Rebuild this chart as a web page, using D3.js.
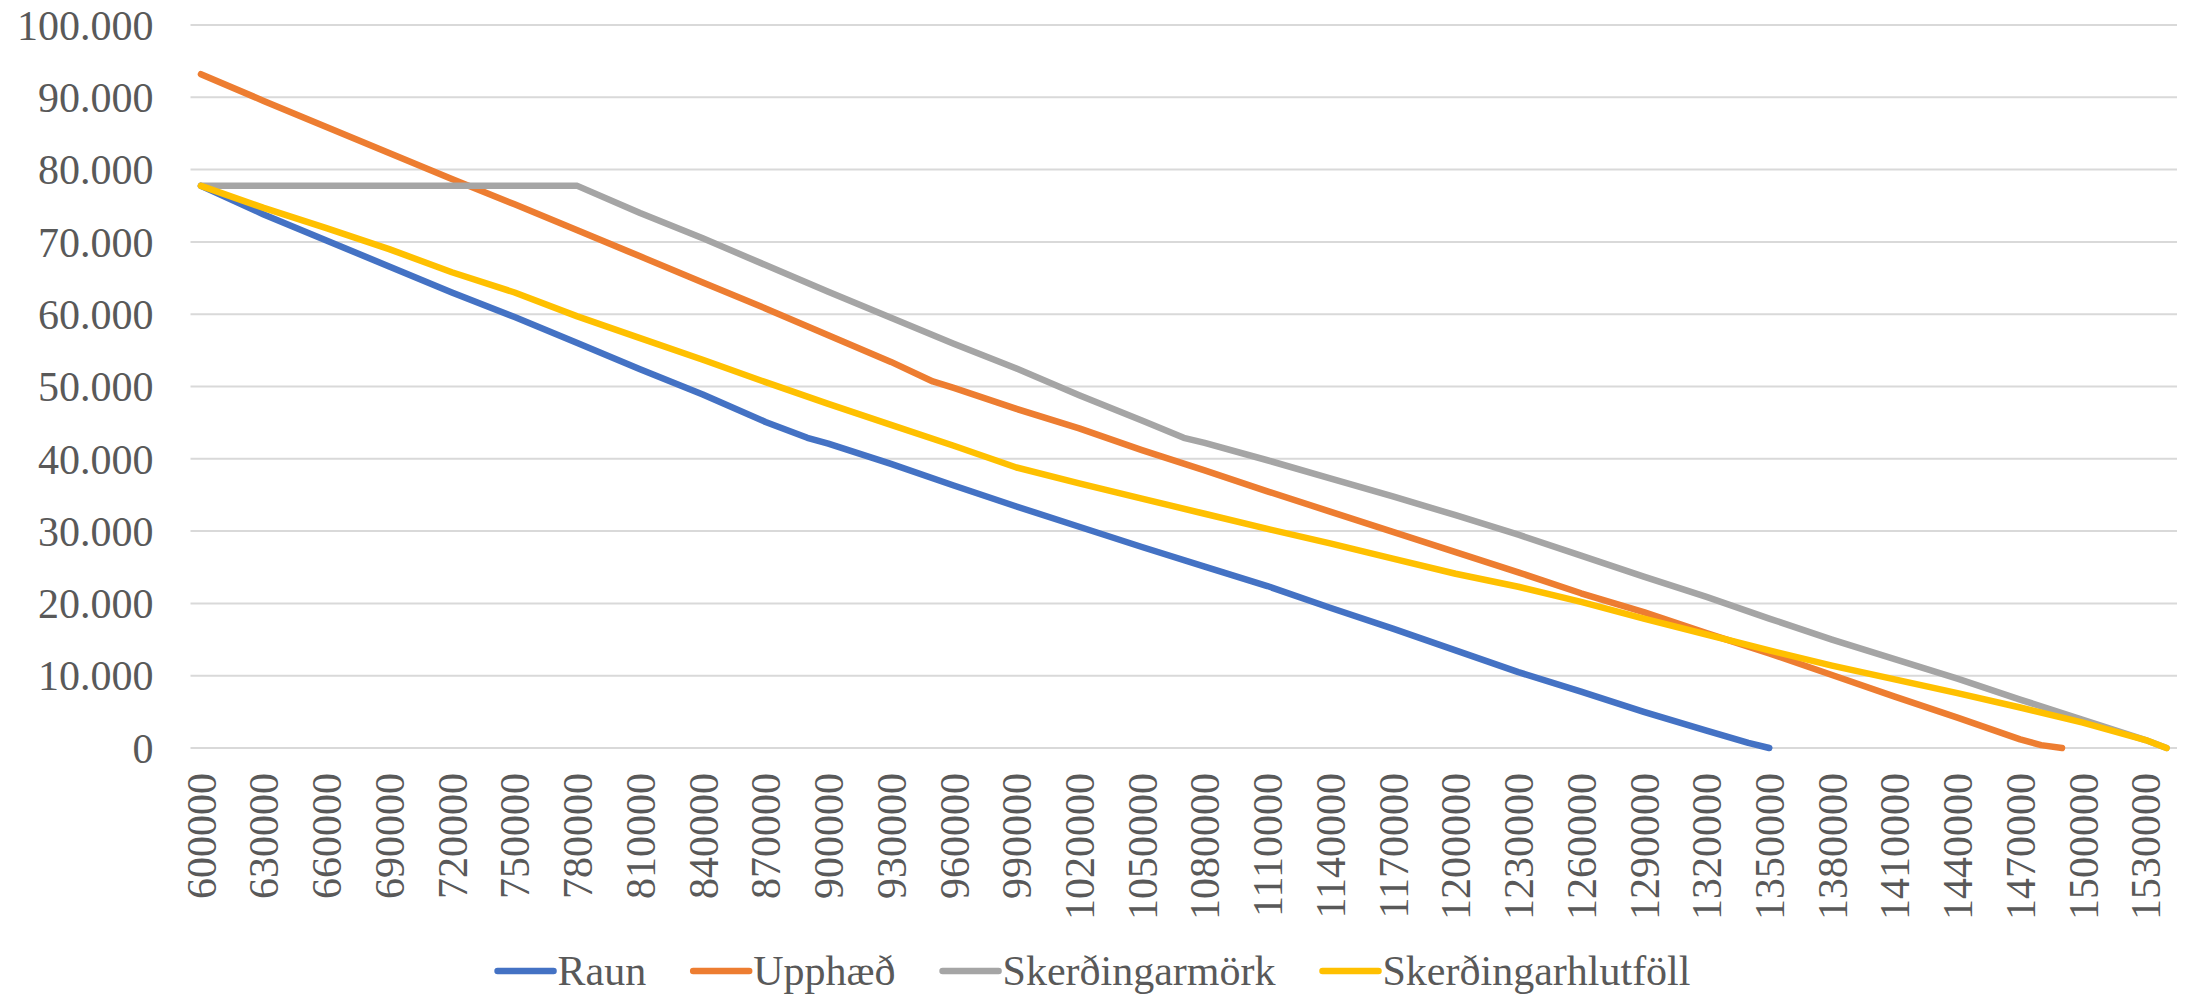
<!DOCTYPE html>
<html>
<head>
<meta charset="utf-8">
<script src="https://cdn.jsdelivr.net/npm/d3@7"></script>
<style>
  html, body { margin: 0; padding: 0; background: #ffffff; }
  svg { display: block; }
  text { font-family: "Liberation Serif", "Times New Roman", serif; fill: #595959; }
</style>
</head>
<body>
<svg id="chart" width="2188" height="994"></svg>
<script>
// ---- Data ----
// Category axis: income steps of 10000 from 600000 to 1540000
const categories = d3.range(600000, 1540001, 10000);
const xTickLabels = [600000, 630000, 660000, 690000, 720000, 750000, 780000, 810000, 840000, 870000,
  900000, 930000, 960000, 990000, 1020000, 1050000, 1080000, 1110000, 1140000, 1170000, 1200000,
  1230000, 1260000, 1290000, 1320000, 1350000, 1380000, 1410000, 1440000, 1470000, 1500000, 1530000];
const yTicks = [0, 10000, 20000, 30000, 40000, 50000, 60000, 70000, 80000, 90000, 100000];

const seriesNames = ["Raun", "Upphæð", "Skerðingarmörk", "Skerðingarhlutföll"];
const seriesColors = ["#4472C4", "#ED7D31", "#A5A5A5", "#FFC000"];

// Raun
const raunX = [600000, 630000, 660000, 690000, 720000, 750000, 780000, 810000, 840000, 870000, 890000,
  900000, 930000, 960000, 990000, 1020000, 1050000, 1080000, 1110000, 1140000, 1170000, 1200000,
  1230000, 1260000, 1290000, 1320000, 1340000, 1350000];
const raunY = [77750, 73800, 70200, 66600, 63000, 59600, 56000, 52400, 48900, 45100, 42900,
  42100, 39300, 36300, 33400, 30600, 27800, 25100, 22400, 19400, 16500, 13500,
  10500, 7800, 5000, 2400, 700, 0];

// Upphæð
const upphaedX = [600000, 630000, 660000, 690000, 720000, 750000, 780000, 810000, 840000, 870000,
  900000, 930000, 950000, 960000, 990000, 1020000, 1050000, 1080000, 1110000, 1140000, 1170000,
  1200000, 1230000, 1260000, 1290000, 1320000, 1350000, 1380000, 1410000, 1440000, 1470000,
  1480000, 1490000];
const upphaedY = [93200, 89500, 85900, 82300, 78700, 75200, 71600, 68000, 64400, 60800,
  57100, 53400, 50700, 49800, 46900, 44200, 41200, 38400, 35500, 32700, 29900,
  27100, 24300, 21400, 18800, 15900, 13100, 10100, 7100, 4200, 1200,
  400, 0];

// Skerðingarmörk
const morkX = [600000, 780000, 810000, 840000, 870000, 900000, 930000, 960000, 990000, 1020000,
  1050000, 1070000, 1080000, 1110000, 1140000, 1170000, 1200000, 1230000, 1260000, 1290000,
  1320000, 1350000, 1380000, 1410000, 1440000, 1470000, 1500000, 1530000, 1540000];
const morkY = [77750, 77750, 74000, 70500, 66800, 63100, 59500, 55900, 52500, 48800,
  45300, 42900, 42200, 39800, 37300, 34800, 32200, 29500, 26600, 23700,
  20900, 17900, 15000, 12300, 9600, 6700, 3900, 1100, 0];

// Skerðingarhlutföll
const hlutfollX = [600000, 630000, 660000, 690000, 720000, 750000, 780000, 810000, 840000, 870000,
  900000, 930000, 960000, 990000, 1020000, 1050000, 1080000, 1110000, 1140000, 1170000, 1200000,
  1230000, 1260000, 1290000, 1320000, 1350000, 1380000, 1410000, 1440000, 1470000, 1500000,
  1530000, 1540000];
const hlutfollY = [77750, 74700, 71900, 69000, 65800, 63000, 59700, 56700, 53700, 50600,
  47600, 44700, 41800, 38800, 36600, 34500, 32400, 30300, 28300, 26200, 24100,
  22300, 20200, 17900, 15700, 13500, 11400, 9500, 7600, 5600, 3500,
  1100, 0];

const seriesX = [raunX, upphaedX, morkX, hlutfollX];
const seriesY = [raunY, upphaedY, morkY, hlutfollY];

// ---- Layout ----
const W = 2188, H = 994;
const plot = { left: 190.5, right: 2177, top: 25, bottom: 748 };
const FONT = 42;

const svg = d3.select("#chart");

const x = d3.scalePoint()
  .domain(categories)
  .range([plot.left, plot.right])
  .padding(0.5);

const y = d3.scaleLinear()
  .domain([0, 100000])
  .range([plot.bottom, plot.top]);

const isLocale = d3.formatLocale({ decimal: ",", thousands: ".", grouping: [3], currency: ["", " kr."] });
const yFmt = isLocale.format(",d");

// Gridlines
svg.append("g")
  .selectAll("line")
  .data(yTicks)
  .join("line")
  .attr("x1", plot.left)
  .attr("x2", plot.right)
  .attr("y1", d => y(d))
  .attr("y2", d => y(d))
  .attr("stroke", "#D9D9D9")
  .attr("stroke-width", 2);

// Y axis labels
const yAxis = svg.append("g")
  .attr("transform", `translate(${plot.left},0)`)
  .call(d3.axisLeft(y).tickValues(yTicks).tickSize(0).tickPadding(37).tickFormat(d => yFmt(d)));
yAxis.select(".domain").remove();
yAxis.selectAll("text")
  .style("font-size", FONT + "px")
  .style("font-family", "'Liberation Serif', 'Times New Roman', serif")
  .attr("fill", "#595959")
  .attr("dy", "0.34em");

// X axis labels (rotated)
const xAxis = svg.append("g")
  .attr("transform", `translate(0,${plot.bottom})`)
  .call(d3.axisBottom(x).tickValues(xTickLabels).tickSize(0).tickFormat(d => String(d)));
xAxis.select(".domain").remove();
xAxis.selectAll("text")
  .style("font-size", FONT + "px")
  .style("font-family", "'Liberation Serif', 'Times New Roman', serif")
  .attr("fill", "#595959")
  .attr("y", 0)
  .attr("x", -25)
  .attr("dy", "0.34em")
  .attr("transform", "rotate(-90)")
  .style("text-anchor", "end");

// Lines
const line = d3.line()
  .x(d => x(d[0]))
  .y(d => y(d[1]));

seriesNames.forEach((name, i) => {
  const pts = seriesX[i].map((xv, j) => [xv, seriesY[i][j]]);
  svg.append("path")
    .datum(pts)
    .attr("d", line)
    .attr("fill", "none")
    .attr("stroke", seriesColors[i])
    .attr("stroke-width", 6.5)
    .attr("stroke-linejoin", "round")
    .attr("stroke-linecap", "round");
});

// Legend
const legend = svg.append("g");
const legendY = 971;
const swatch = 56, swGap = 4, itemGap = 47;
const items = [];
seriesNames.forEach((name, i) => {
  const g = legend.append("g");
  g.append("line")
    .attr("x1", 0).attr("x2", swatch)
    .attr("y1", 0).attr("y2", 0)
    .attr("stroke", seriesColors[i])
    .attr("stroke-width", 6.5)
    .attr("stroke-linecap", "round");
  const t = g.append("text")
    .attr("x", swatch + swGap)
    .attr("y", 0)
    .attr("dy", "0.34em")
    .style("font-size", FONT + "px")
    .text(name);
  const w = swatch + swGap + t.node().getComputedTextLength();
  items.push({ g, w });
});
const totalW = d3.sum(items, d => d.w) + itemGap * (items.length - 1);
let lx = W / 2 - totalW / 2;
items.forEach(it => {
  it.g.attr("transform", `translate(${lx},${legendY})`);
  lx += it.w + itemGap;
});
</script>
</body>
</html>
